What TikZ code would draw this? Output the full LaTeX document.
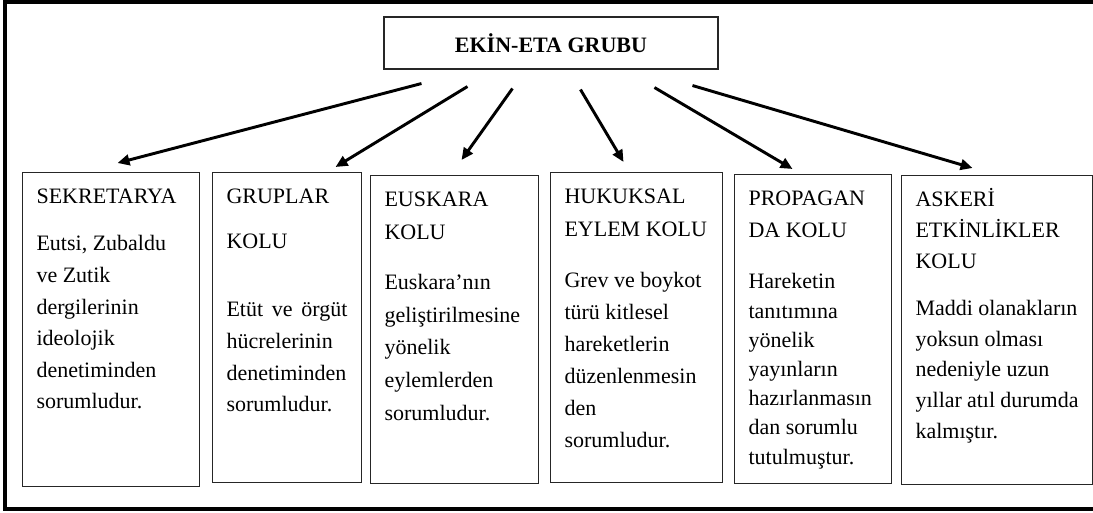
\documentclass[tikz,border=0pt]{standalone}
\usepackage{fontspec}
\setmainfont{Liberation Serif}
\usetikzlibrary{arrows.meta,calc}
\begin{document}
\begin{tikzpicture}
[x=.75pt, y=-.75pt,
ok/.style={line width=2.2pt, -{Triangle[length=9pt,width=8pt]}},
baslik/.style={draw=black!85, line width=.8pt, minimum width=250.5pt, minimum height=39pt, font=\fontsize{16.5}{20}\selectfont\bfseries},
kol/.style 2 args={draw=black!85, line width=.8pt, anchor=north west, inner xsep=10.5pt, inner ysep=7.6pt,
 font=\fontsize{16.5}{23.7}\selectfont,
 execute at begin node={\begin{minipage}[t][#2][t]{#1}\rule{0pt}{16pt}},
 execute at end node={\end{minipage}}}]
\useasboundingbox (0,0) rectangle (1093,513);
\clip (0,0) rectangle (1093,513);
\draw[line width=3.5pt] (5,2) rectangle (1110,509);
\node[baslik] (ust) at (551,43) {EKİN-ETA GRUBU};
\node[kol={111.75pt}{220.3pt}] (sekretarya) at (22,172) {SEKRETARYA\\[11.5pt] Eutsi, Zubaldu\\ ve Zutik\\ dergilerinin\\ ideolojik\\ denetiminden\\ sorumludur.};
\node[kol={90.75pt}{217.3pt}] (gruplar) at (212,172) {GRUPLAR\\[10pt] KOLU\\[27.3pt] Etüt\hfill ve\hfill örgüt\\ hücrelerinin\\ denetiminden\\ sorumludur.};
\node[kol={105pt}{215.8pt}, font=\fontsize{16.5}{24.5}\selectfont] (euskara) at (370,175) {EUSKARA\\ KOLU\\[13pt] Euskara’nın\\ geliştirilmesine\\ yönelik\\ eylemlerden\\ sorumludur.};
\node[kol={108pt}{217.3pt}, font=\fontsize{16.5}{23.9}\selectfont] (hukuksal) at (550,172) {HUKUKSAL\\[.8pt] EYLEM KOLU\\[14.4pt] Grev ve boykot\\ türü kitlesel\\ hareketlerin\\ düzenlenmesin\\ den\\ sorumludur.};
\node[kol={96.75pt}{216.55pt}, font=\fontsize{16.5}{21.9}\selectfont] (propaganda) at (734,174) {PROPAGAN\\[2pt] DA KOLU\\[16.4pt] Hareketin\\ tanıtımına\\ yönelik\\ yayınların\\ hazırlanmasın\\ dan sorumlu\\ tutulmuştur.};
\node[kol={122.25pt}{216.55pt}, font=\fontsize{16.5}{23}\selectfont] (askeri) at (901,175) {ASKERİ\\ ETKİNLİKLER\\ KOLU\\[12.3pt] Maddi olanakların\\ yoksun olması\\ nedeniyle uzun\\ yıllar atıl durumda\\ kalmıştır.};
\draw[ok] ($(ust.south west)+(38,14)$) -- ($(sekretarya.north)+(6.5,-9)$);
\draw[ok] ($(ust.south west)+(84,17)$) -- ($(gruplar.north)+(48.5,-5)$);
\draw[ok] ($(ust.south west)+(129,19)$) -- ($(euskara.north)+(7,-15)$);
\draw[ok] ($(ust.south west)+(197,20)$) -- ($(hukuksal.north)+(-13,-10)$);
\draw[ok] ($(ust.south west)+(271,18)$) -- ($(propaganda.north)+(-20.5,-5)$);
\draw[ok] ($(ust.south west)+(309,16)$) -- ($(askeri.north)+(-24.5,-7)$);
\end{tikzpicture}
\end{document}
